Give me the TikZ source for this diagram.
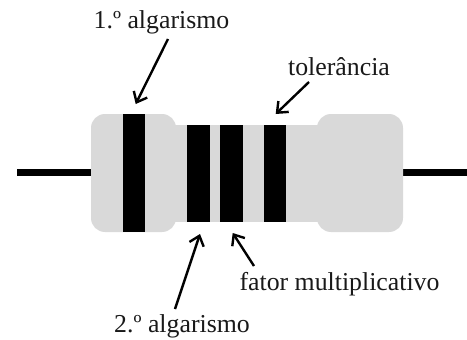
\documentclass[tikz,border=0pt]{standalone}
\usepackage{fontspec}
\setmainfont{Liberation Serif}
\usetikzlibrary{arrows.meta}
\definecolor{bodygray}{RGB}{217,217,217}
\tikzset{
  x=1pt,y=-1pt,
  bodypart/.style={fill=bodygray,draw=none},
  band/.style={fill=black,draw=none},
  lead/.style={fill=black,draw=none},
  lbl/.style={font=\fontsize{25.8}{30}\selectfont,anchor=base,inner sep=0pt,text=black!90},
  pointer/.style={line width=2.4pt,-{Straight Barb[length=9pt,width=15pt,line width=2.4pt]}},
}
\begin{document}
\begin{tikzpicture}
\useasboundingbox (0,0) rectangle (467,340);
% leads
\fill[lead] (17,168.7) rectangle (92,176.3);
\fill[lead] (402,168.7) rectangle (467,176.3);
% body
\fill[bodypart] (170,125) rectangle (325,222);
\fill[bodypart,rounded corners=14pt] (91,114) rectangle (176,232);
\fill[bodypart,rounded corners=14pt] (317,114) rectangle (403,232);
% bands
\fill[band] (123,114) rectangle (145,232);
\fill[band] (187,125) rectangle (210,222);
\fill[band] (220,125) rectangle (242.5,222);
\fill[band] (264,125) rectangle (286,222);
% labels
\node[lbl] (first) at (161.5,28) {1.º algarismo};
\node[lbl] (tol) at (339,75) {tolerância};
\node[lbl] (fator) at (339.5,290) {fator multiplicativo};
\node[lbl] (second) at (182,332) {2.º algarismo};
% arrow ends
\coordinate (firstS) at (168,39);
\coordinate (firstE) at (135.7,104);
\coordinate (tolS) at (309,82);
\coordinate (tolE) at (275.7,114);
\coordinate (secondS) at (175,309);
\coordinate (secondE) at (200,234);
\coordinate (fatorS) at (254,266);
\coordinate (fatorE) at (232.7,233);
\draw[pointer] (firstS) -- (firstE);
\draw[pointer] (tolS) -- (tolE);
\draw[pointer] (secondS) -- (secondE);
\draw[pointer] (fatorS) -- (fatorE);
\end{tikzpicture}
\end{document}
